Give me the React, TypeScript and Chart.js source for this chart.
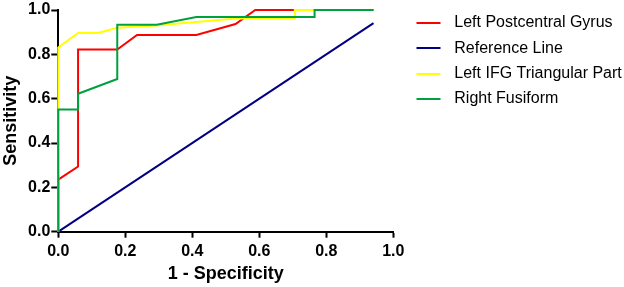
import React, { useEffect, useRef } from 'react';
import { Chart, registerables } from 'chart.js';

Chart.register(...registerables);

const seriesNames = ['Left Postcentral Gyrus', 'Reference Line', 'Left IFG Triangular Part', 'Right Fusiform'];
const seriesColors = ['#FF0000', '#000080', '#FFFF00', '#00A03E'];

const postcentralX = [0, 0, 0.059, 0.059, 0.176, 0.235, 0.412, 0.529, 0.588, 0.941];
const postcentralY = [0, 0.235, 0.294, 0.822, 0.822, 0.887, 0.887, 0.937, 1.0, 1.0];

const referenceX = [0, 0.941];
const referenceY = [0, 0.941];

const ifgX = [0, 0, 0.059, 0.118, 0.176, 0.294, 0.529, 0.706, 0.706, 0.941];
const ifgY = [0, 0.831, 0.896, 0.896, 0.92, 0.93, 0.962, 0.962, 1.0, 1.0];

const fusiformX = [0, 0, 0.059, 0.059, 0.176, 0.176, 0.294, 0.412, 0.765, 0.765, 0.941];
const fusiformY = [0, 0.551, 0.551, 0.622, 0.689, 0.933, 0.933, 0.968, 0.968, 1.0, 1.0];

const axisMin = 0;
const axisMax = 1;
const axisStep = 0.2;

const xTitle = '1 - Specificity';
const yTitle = 'Sensitivity';

const FONT = '"Liberation Sans", Arial, sans-serif';

function toPoints(xs: number[], ys: number[]) {
  return xs.map((x, i) => ({ x, y: ys[i] }));
}

function legendSwatch(color: string) {
  const c = document.createElement('canvas');
  c.width = 44;
  c.height = 2;
  const g = c.getContext('2d');
  if (g) {
    g.fillStyle = color;
    g.fillRect(14, 0, 24, 2);
  }
  return c;
}

export default function App() {
  const ref = useRef<HTMLCanvasElement | null>(null);

  useEffect(() => {
    document.body.style.margin = '0';
    const canvas = ref.current;
    if (!canvas) return;
    Chart.defaults.font.family = FONT;

    const seriesData = [
      toPoints(postcentralX, postcentralY),
      toPoints(referenceX, referenceY),
      toPoints(ifgX, ifgY),
      toPoints(fusiformX, fusiformY),
    ];
    const drawOrder = [3, 2, 1, 0];

    const tickFmt = (v: any) => Number(v).toFixed(1);

    const chart = new Chart(canvas, {
      type: 'line',
      data: {
        datasets: seriesNames.map((name, i) => ({
          label: name,
          data: seriesData[i],
          borderColor: seriesColors[i],
          backgroundColor: seriesColors[i],
          borderWidth: 2,
          pointRadius: 0,
          pointHoverRadius: 0,
          pointStyle: legendSwatch(seriesColors[i]) as any,
          tension: 0,
          fill: false,
          clip: false as any,
          order: drawOrder[i],
        })),
      },
      options: {
        responsive: false,
        animation: false,
        devicePixelRatio: 1,
        parsing: true as any,
        layout: { padding: { top: 5.7, left: 0, right: 0, bottom: 0 } },
        plugins: {
          tooltip: { enabled: false },
          legend: {
            position: 'right',
            align: 'start',
            maxWidth: 230.7,
            labels: {
              usePointStyle: true,
              pointStyleWidth: 43.7,
              padding: 9.3,
              color: '#000',
              font: { size: 16, family: FONT },
              sort: (a: any, b: any) => a.datasetIndex - b.datasetIndex,
            },
          } as any,
        },
        scales: {
          x: {
            type: 'linear',
            min: axisMin,
            max: axisMax,
            ticks: {
              stepSize: axisStep,
              color: '#000',
              padding: 4.9,
              maxRotation: 0,
              font: { size: 16, weight: 'bold', lineHeight: 1.125, family: FONT },
              callback: tickFmt,
            },
            grid: {
              display: true,
              drawOnChartArea: false,
              drawTicks: true,
              tickLength: 6,
              tickWidth: 2,
              tickColor: '#000',
            },
            border: { display: true, color: '#000', width: 2 },
            title: {
              display: true,
              text: xTitle,
              color: '#000',
              font: { size: 18, weight: 'bold', lineHeight: 1.2, family: FONT },
              padding: { top: 0, bottom: 2.3 },
            },
            afterFit: (s: any) => {
              s.height = 55.3;
            },
          } as any,
          y: {
            type: 'linear',
            min: axisMin,
            max: axisMax,
            ticks: {
              stepSize: axisStep,
              color: '#000',
              padding: 1,
              font: { size: 16, weight: 'bold', lineHeight: 1.125, family: FONT },
              callback: tickFmt,
            },
            grid: {
              display: true,
              drawOnChartArea: false,
              drawTicks: true,
              tickLength: 7,
              tickWidth: 2,
              tickColor: '#000',
            },
            border: { display: true, color: '#000', width: 2 },
            title: {
              display: true,
              text: yTitle,
              color: '#000',
              font: { size: 18, weight: 'bold', lineHeight: 1.2, family: FONT },
              padding: { top: 0, bottom: 0 },
            },
            afterFit: (s: any) => {
              s.width = 58.3;
            },
          } as any,
        },
      },
    });

    return () => chart.destroy();
  }, []);

  return (
    <div style={{ width: 624, height: 287, position: 'relative' }}>
      <canvas ref={ref} width={624} height={287} style={{ display: 'block' }} />
    </div>
  );
}
